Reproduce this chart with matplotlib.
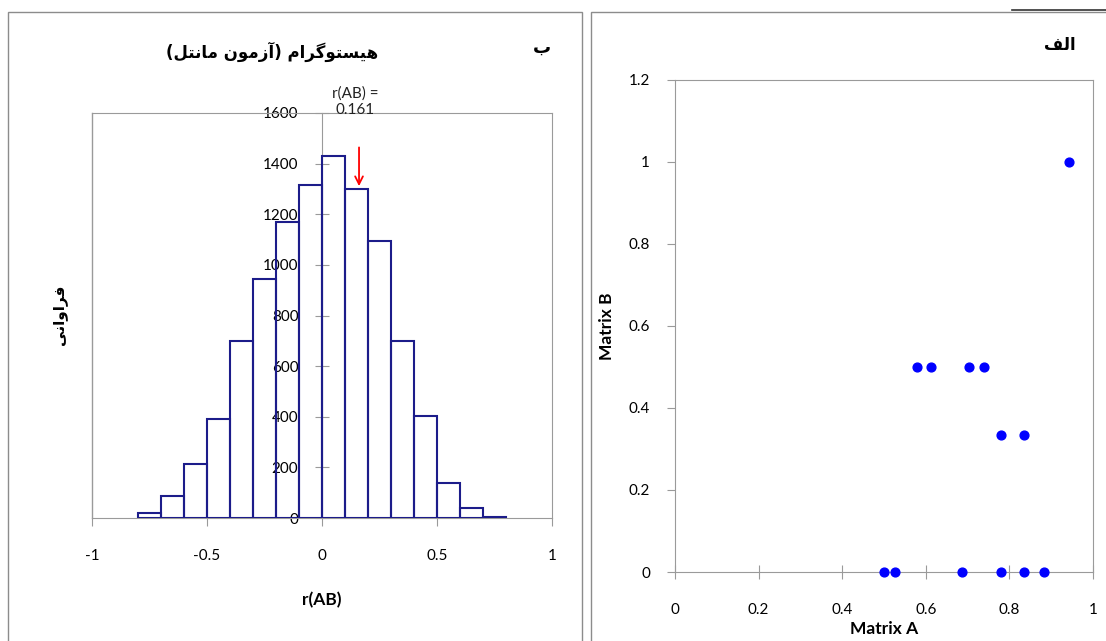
import matplotlib
matplotlib.use('Agg')
import matplotlib.pyplot as plt
from matplotlib.patches import Rectangle
from matplotlib.lines import Line2D

plt.rcParams['font.family'] = ['Lato', 'DejaVu Sans']
plt.rcParams['axes.unicode_minus'] = False

# --- data ---
Bin_Edges = [-0.8, -0.7, -0.6, -0.5, -0.4, -0.3, -0.2, -0.1, 0.0,
             0.1, 0.2, 0.3, 0.4, 0.5, 0.6, 0.7, 0.8]
Bin_Counts = [20, 85, 212, 392, 698, 943, 1170, 1317, 1430,
              1300, 1096, 698, 402, 139, 41, 5]
R_AB = 0.161
Hist_X_Ticks = [-1, -0.5, 0, 0.5, 1]
Hist_X_Labels = ['-1', '-0.5', '0', '0.5', '1']
Hist_Y_Ticks = [0, 200, 400, 600, 800, 1000, 1200, 1400, 1600]

Matrix_A = [0.500, 0.527, 0.687, 0.780, 0.835, 0.882,
            0.579, 0.612, 0.704, 0.739,
            0.780, 0.835,
            0.943]
Matrix_B = [0, 0, 0, 0, 0, 0,
            0.5, 0.5, 0.5, 0.5,
            0.333, 0.333,
            1.0]
Scatter_X_Ticks = [0, 0.2, 0.4, 0.6, 0.8, 1]
Scatter_X_Labels = ['0', '0.2', '0.4', '0.6', '0.8', '1']
Scatter_Y_Ticks = [0, 0.2, 0.4, 0.6, 0.8, 1, 1.2]
Scatter_Y_Labels = ['0', '0.2', '0.4', '0.6', '0.8', '1', '1.2']

Title_Hist = 'هیستوگرام (آزمون مانتل)'
YLabel_Hist = 'فراوانی'
Panel_B = 'ب'
Panel_A = 'الف'

# Arabic letter forms: isolated, final, initial, medial
FORMS = {
    '\u0627': ('\uFE8D', '\uFE8E', None, None),
    '\u0622': ('\uFE81', '\uFE82', None, None),
    '\u0628': ('\uFE8F', '\uFE90', '\uFE91', '\uFE92'),
    '\u062A': ('\uFE95', '\uFE96', '\uFE97', '\uFE98'),
    '\u0631': ('\uFEAD', '\uFEAE', None, None),
    '\u0632': ('\uFEAF', '\uFEB0', None, None),
    '\u0633': ('\uFEB1', '\uFEB2', '\uFEB3', '\uFEB4'),
    '\u0641': ('\uFED1', '\uFED2', '\uFED3', '\uFED4'),
    '\u06AF': ('\uFB92', '\uFB93', '\uFB94', '\uFB95'),
    '\u0644': ('\uFEDD', '\uFEDE', '\uFEDF', '\uFEE0'),
    '\u0645': ('\uFEE1', '\uFEE2', '\uFEE3', '\uFEE4'),
    '\u0646': ('\uFEE5', '\uFEE6', '\uFEE7', '\uFEE8'),
    '\u0647': ('\uFEE9', '\uFEEA', '\uFEEB', '\uFEEC'),
    '\u0648': ('\uFEED', '\uFEEE', None, None),
    '\u06CC': ('\uFBFC', '\uFBFD', '\uFBFE', '\uFBFF'),
}

def Shape(text):
    # matplotlib does no Arabic shaping or bidi, so do it by hand
    text = text.replace('\u064A', '\u06CC')
    out = []
    for i, ch in enumerate(text):
        if ch not in FORMS:
            out.append(ch)
            continue
        prev = text[i - 1] if i > 0 else ''
        nxt = text[i + 1] if i + 1 < len(text) else ''
        join_prev = prev in FORMS and FORMS[prev][2] is not None
        join_next = nxt in FORMS and FORMS[ch][2] is not None
        iso, fin, ini, med = FORMS[ch]
        if join_prev and join_next:
            out.append(med)
        elif join_prev:
            out.append(fin)
        elif join_next:
            out.append(ini)
        else:
            out.append(iso)
    mirror = {'(': ')', ')': '('}
    return ''.join(mirror.get(c, c) for c in reversed(out))

W, H = 1106, 641
fig = plt.figure(figsize=(W / 100, H / 100), dpi=100)

def fx(px):
    return px / W

def fy(py):
    return 1 - py / H

Gray = '#9a9a9a'

# panel frames
fig.add_artist(Rectangle((fx(8), fy(700)), fx(574), (700 - 12) / H,
                         transform=fig.transFigure, fill=False,
                         edgecolor='#8c8c8c', linewidth=1))
fig.add_artist(Rectangle((fx(591), fy(700)), fx(600), (700 - 12) / H,
                         transform=fig.transFigure, fill=False,
                         edgecolor='#8c8c8c', linewidth=1))
fig.add_artist(Line2D([fx(1012), fx(1106)], [fy(10), fy(10)],
                      transform=fig.transFigure, color='#333333', linewidth=1.2))

# ---------------- histogram (left) ----------------
ax1 = fig.add_axes([fx(92), fy(518), fx(460), 405 / H])
ax1.bar(Bin_Edges[:-1], Bin_Counts, width=0.1, align='edge', fill=False,
        edgecolor='#1c1c8a', linewidth=1.5, zorder=3)
ax1.set_xlim(-1, 1)
ax1.set_ylim(0, 1600)
for s in ax1.spines.values():
    s.set_color(Gray)
ax1.spines['left'].set_position(('data', 0))
ax1.add_line(Line2D([0, 0], [0, 1], transform=ax1.transAxes,
                    color=Gray, linewidth=1, clip_on=False))
ax1.set_xticks(Hist_X_Ticks)
ax1.set_xticklabels(Hist_X_Labels)
ax1.set_yticks(Hist_Y_Ticks)
ax1.tick_params(axis='x', direction='out', length=6, color=Gray, pad=16,
                labelsize=11)
ax1.tick_params(axis='y', direction='inout', length=10, color=Gray, pad=12,
                labelsize=11)
ax1.annotate('', xy=(R_AB, 1300), xytext=(R_AB, 1475),
             arrowprops=dict(arrowstyle='->', color='red', lw=1.3,
                             mutation_scale=14), zorder=4)
ax1.text(0.143, 1645, 'r(AB) =\n' + str(R_AB), ha='center', va='center',
         fontsize=11, color='#222222', clip_on=False, linespacing=1.25)
ax1.set_xlabel('r(AB)', fontsize=12.5, fontweight='bold', labelpad=21)

fig.text(fx(272), fy(52), Shape(Title_Hist), ha='center', va='center',
         fontsize=12, fontweight='bold', family='DejaVu Sans')
fig.text(fx(542), fy(48), Shape(Panel_B), ha='center', va='center',
         fontsize=13, fontweight='bold', family='DejaVu Sans')
fig.text(fx(60), fy(315), Shape(YLabel_Hist), ha='center', va='center',
         fontsize=11, fontweight='bold', family='DejaVu Sans', rotation=90)

# ---------------- scatter (right) ----------------
ax2 = fig.add_axes([fx(675), fy(572), fx(418), 492 / H])
ax2.scatter(Matrix_A, Matrix_B, s=40, color='#0000ff', zorder=3,
            clip_on=False)
ax2.set_xlim(0, 1)
ax2.set_ylim(0, 1.2)
for s in ax2.spines.values():
    s.set_color(Gray)
ax2.set_xticks(Scatter_X_Ticks)
ax2.set_xticklabels(Scatter_X_Labels)
ax2.set_yticks(Scatter_Y_Ticks)
ax2.set_yticklabels(Scatter_Y_Labels)
ax2.tick_params(axis='x', direction='inout', length=10, color=Gray, pad=17,
                labelsize=11)
ax2.tick_params(axis='y', direction='out', length=6, color=Gray, pad=12,
                labelsize=11)
ax2.set_xlabel('Matrix A', fontsize=12.5, fontweight='bold', labelpad=3)
ax2.set_ylabel('Matrix B', fontsize=12.5, fontweight='bold', labelpad=10)

fig.text(fx(1060), fy(45), Shape(Panel_A), ha='center', va='center',
         fontsize=12, fontweight='bold', family='DejaVu Sans')

fig.savefig('out.png', dpi=100)
